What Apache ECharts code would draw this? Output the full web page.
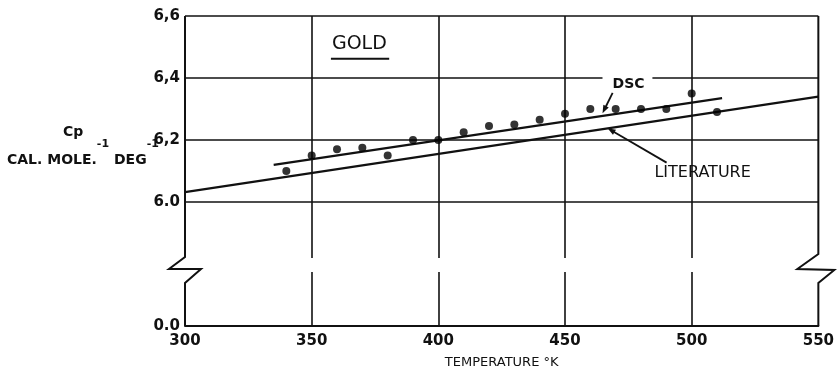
<!DOCTYPE html>
<html><head><meta charset="utf-8">
<script src="https://cdn.jsdelivr.net/npm/echarts@6/dist/echarts.min.js"></script>
<style>html,body{margin:0;padding:0;background:#fff}#c{width:837px;height:374px}</style>
</head><body><div id="c"></div>
<script>
// ---- data ----
const temps = [340, 350, 360, 370, 380, 390, 400, 410, 420, 430, 440, 450, 460, 470, 480, 490, 500, 510];
const cpDSC = [6.10, 6.15, 6.17, 6.175, 6.15, 6.20, 6.20, 6.225, 6.245, 6.25, 6.265, 6.285, 6.30, 6.30, 6.30, 6.30, 6.35, 6.29];
const dscFitT = [335, 512];
const dscFitCp = [6.12, 6.335];
const litT = [300, 550];
const litCp = [6.032, 6.34];
const xTickValues = [300, 350, 400, 450, 500, 550];
const yTickValues = [5.6, 6.0, 6.2, 6.4, 6.6];
const yTickTexts = ['0.0', '6.0', '6,2', '6,4', '6,6'];

const INK = '#111';
const FONT = 'DejaVu Sans';
const chart = echarts.init(document.getElementById('c'), null, {renderer: 'canvas'});

function yLabel(v) {
  for (let i = 0; i < yTickValues.length; i++) {
    if (Math.abs(v - yTickValues[i]) < 1e-6) return yTickTexts[i];
  }
  return '';
}

chart.setOption({
  animation: false,
  backgroundColor: '#fff',
  grid: {left: 185, right: 18, top: 16, bottom: 43, containLabel: false},
  xAxis: {
    type: 'value', min: xTickValues[0], max: xTickValues[xTickValues.length - 1], interval: 50,
    axisLine: {show: true, lineStyle: {color: INK, width: 2}},
    axisTick: {show: false},
    axisLabel: {color: INK, fontFamily: FONT, fontWeight: 'bold', fontSize: 15, margin: 8},
    splitLine: {show: true, showMinLine: false, showMaxLine: false, lineStyle: {color: INK, width: 1.6}},
    name: 'TEMPERATURE °K', nameLocation: 'middle', nameGap: 30,
    nameTextStyle: {color: INK, fontFamily: FONT, fontSize: 13, verticalAlign: 'top'}
  },
  yAxis: {
    type: 'value', min: 5.6, max: 6.6, interval: 0.2,
    axisLine: {show: false}, axisTick: {show: false},
    axisLabel: {color: INK, fontFamily: FONT, fontWeight: 'bold', fontSize: 15, margin: 5, formatter: yLabel},
    splitLine: {show: true, lineStyle: {color: [INK, 'rgba(0,0,0,0)', INK, INK, INK, INK], width: 1.6}}
  },
  series: [
    {type: 'line', name: 'Literature', data: litT.map((t, i) => [t, litCp[i]]), showSymbol: false,
     lineStyle: {color: INK, width: 2.2}, z: 3},
    {type: 'line', name: 'DSC fit', data: dscFitT.map((t, i) => [t, dscFitCp[i]]), showSymbol: false,
     lineStyle: {color: INK, width: 2.2}, z: 3},
    {type: 'scatter', name: 'DSC', data: temps.map((t, i) => [t, cpDSC[i]]), symbol: 'circle', symbolSize: 8,
     itemStyle: {color: '#000'}, z: 4}
  ]
});

const P = (x, y) => chart.convertToPixel({gridIndex: 0}, [x, y]);
function arrow(a, b) {
  const ang = Math.atan2(b[1] - a[1], b[0] - a[0]);
  const L = 8, W = 3;
  const c = Math.cos(ang), s = Math.sin(ang);
  return [
    {type: 'line', z: 100, shape: {x1: a[0], y1: a[1], x2: b[0] - c * 4, y2: b[1] - s * 4}, style: {stroke: INK, lineWidth: 1.8}},
    {type: 'polygon', z: 100, shape: {points: [[b[0], b[1]], [b[0] - L * c + W * s, b[1] - L * s - W * c], [b[0] - L * c - W * s, b[1] - L * s + W * c]]}, style: {fill: INK}}
  ];
}

const tl = P(300, 6.6), bl = P(300, 5.6), tr = P(550, 6.6), br = P(550, 5.6);
const yb = P(300, 5.784)[1];
const g = [];
// band where the axis is broken
g.push({type: 'rect', z: 90, shape: {x: tl[0] + 2, y: yb - 11, width: tr[0] - tl[0] - 4, height: 14}, style: {fill: '#fff'}});
// left border with break symbol
g.push({type: 'polyline', z: 100, shape: {points: [[tl[0], tl[1]], [tl[0], yb - 12], [tl[0] - 16, yb], [tl[0] + 16, yb], [tl[0], yb + 14], [bl[0], bl[1]]]}, style: {stroke: INK, lineWidth: 2, fill: null}});
// right border with break symbol
g.push({type: 'polyline', z: 100, shape: {points: [[tr[0], tr[1]], [tr[0], yb - 15], [tr[0] - 21, yb], [tr[0] + 16, yb + 1], [tr[0], yb + 14], [br[0], br[1]]]}, style: {stroke: INK, lineWidth: 2, fill: null}});

// GOLD title with underline
const gPos = P(358, 6.508);
g.push({type: 'text', z: 100, x: gPos[0], y: gPos[1], style: {text: 'GOLD', font: 'normal 19px "DejaVu Sans"', fill: INK, align: 'left', verticalAlign: 'middle'}});
const u1 = P(357.6, 6.462), u2 = P(380.6, 6.462);
g.push({type: 'line', z: 100, shape: {x1: u1[0], y1: u1[1], x2: u2[0], y2: u2[1]}, style: {stroke: INK, lineWidth: 2}});

// DSC label on the 6.4 line
const d1 = P(464.8, 6.405), d2 = P(484.5, 6.352);
g.push({type: 'rect', z: 95, shape: {x: d1[0], y: d1[1], width: d2[0] - d1[0], height: d2[1] - d1[1]}, style: {fill: '#fff'}});
const dPos = P(475.1, 6.378);
g.push({type: 'text', z: 100, x: dPos[0], y: dPos[1], style: {text: 'DSC', font: 'bold 14px "DejaVu Sans"', fill: INK, align: 'center', verticalAlign: 'middle'}});
g.push(...arrow(P(468.8, 6.352), P(464.8, 6.286)));

// LITERATURE label
const lPos = P(485.3, 6.095);
g.push({type: 'text', z: 100, x: lPos[0], y: lPos[1], style: {text: 'LITERATURE', font: 'normal 16px "DejaVu Sans"', fill: INK, align: 'left', verticalAlign: 'middle'}});
g.push(...arrow(P(490.1, 6.127), P(466.8, 6.238)));

// y axis title
g.push({type: 'text', z: 100, x: 63, y: 132, style: {text: 'Cp', font: 'bold 14px "DejaVu Sans"', fill: INK, align: 'left', verticalAlign: 'middle'}});
g.push({type: 'text', z: 100, x: 7, y: 139, style: {
  text: '{a|CAL. MOLE.}{s|-1}{a| DEG}{s|-1}', fill: INK, align: 'left', verticalAlign: 'top',
  rich: {
    a: {fontFamily: FONT, fontWeight: 'bold', fontSize: 14, lineHeight: 28, verticalAlign: 'bottom', fill: INK},
    s: {fontFamily: FONT, fontWeight: 'bold', fontSize: 11, lineHeight: 12, verticalAlign: 'top', fill: INK}
  }}});

chart.setOption({graphic: g});
</script>
</body></html>
